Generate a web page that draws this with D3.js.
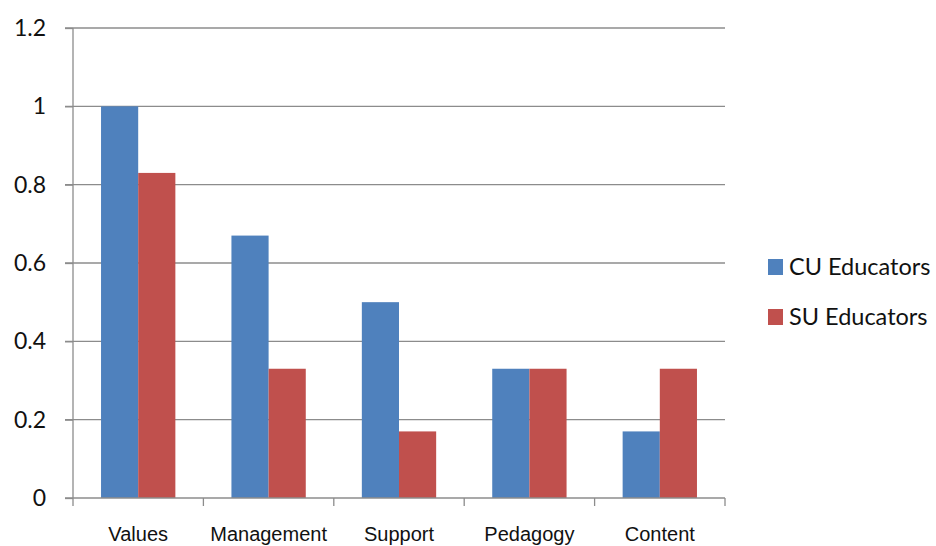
<html lang="en">
<head>
    <meta charset="utf-8">
    <title>Educators</title>
    <script src="https://cdn.jsdelivr.net/npm/d3@7"></script>
    <style>
        body { margin: 0; background: #fff; }
        .grid line { stroke: #8c8c8c; stroke-width: 1.3px; }
        .axis path, .axis line { stroke: #8c8c8c; stroke-width: 1.3px; }
    </style>
</head>
<body>
    <svg width="936" height="546"></svg>
    <script>
        var categories = ["Values", "Management", "Support", "Pedagogy", "Content"];
        var seriesNames = ["CU Educators", "SU Educators"];
        var cuValues = [1, 0.67, 0.5, 0.33, 0.17];
        var suValues = [0.83, 0.33, 0.17, 0.33, 0.33];
        var yTicks = [0, 0.2, 0.4, 0.6, 0.8, 1, 1.2];
        var colors = ["#4f81bd", "#c0504d"];

        var svg = d3.select("svg"),
            margin = {top: 28, right: 211, bottom: 48, left: 73},
            width = 936 - margin.left - margin.right,
            height = 546 - margin.top - margin.bottom,
            g = svg.append("g").attr("transform", "translate(" + margin.left + "," + margin.top + ")");

        var data = categories.map(function(c, i) {
            return {cat: c, values: [cuValues[i], suValues[i]]};
        });

        var x0 = d3.scaleBand().domain(categories).range([0, width]).paddingInner(0.43).paddingOuter(0.215);
        var x1 = d3.scaleBand().domain(seriesNames).range([0, x0.bandwidth()]);
        var y = d3.scaleLinear().domain([0, 1.2]).range([height, 0]);

        // gridlines
        g.append("g").attr("class", "grid")
            .selectAll("line").data(yTicks.slice(1)).enter().append("line")
            .attr("x1", -8).attr("x2", width)
            .attr("y1", function(d) { return y(d); })
            .attr("y2", function(d) { return y(d); });

        // y axis
        var yAxis = g.append("g").attr("class", "axis")
            .call(d3.axisLeft(y).tickValues(yTicks).tickSize(8).tickSizeOuter(0).tickFormat(function(d) { return d3.format("")(+d.toFixed(1)); }));
        yAxis.select(".domain").attr("d", "M0," + height + "V0");
        yAxis.selectAll("text")
            .attr("x", -27)
            .style("font", "23px Lato, 'Open Sans', sans-serif")
            .attr("fill", "#111");

        // bars
        var groups = g.selectAll(".grp").data(data).enter().append("g")
            .attr("transform", function(d) { return "translate(" + x0(d.cat) + ",0)"; });
        groups.selectAll("rect").data(function(d) {
            return d.values.map(function(v, i) { return {name: seriesNames[i], value: v, i: i}; });
        }).enter().append("rect")
            .attr("x", function(d) { return x1(d.name); })
            .attr("width", x1.bandwidth())
            .attr("y", function(d) { return y(d.value); })
            .attr("height", function(d) { return height - y(d.value); })
            .attr("fill", function(d) { return colors[d.i]; });

        // x axis
        var step = width / categories.length;
        var xAxis = g.append("g").attr("class", "axis")
            .attr("transform", "translate(0," + height + ")");
        xAxis.append("line").attr("x1", -8).attr("x2", width);
        xAxis.selectAll(".tk").data(d3.range(categories.length + 1)).enter().append("line")
            .attr("x1", function(d) { return d * step; })
            .attr("x2", function(d) { return d * step; })
            .attr("y1", 0).attr("y2", 8);
        xAxis.selectAll("text").data(categories).enter().append("text")
            .attr("x", function(d) { return x0(d) + x0.bandwidth() / 2; })
            .attr("y", 43)
            .attr("text-anchor", "middle")
            .style("font", "20px 'Liberation Sans', Arial, sans-serif")
            .attr("fill", "#111")
            .text(function(d) { return d; });

        // legend
        var legend = svg.append("g").attr("transform", "translate(768,259)");
        var item = legend.selectAll(".item").data(seriesNames).enter().append("g")
            .attr("transform", function(d, i) { return "translate(0," + (i * 50) + ")"; });
        item.append("rect").attr("width", 15).attr("height", 16)
            .attr("fill", function(d, i) { return colors[i]; });
        item.append("text").attr("x", 21).attr("y", 8).attr("dy", "0.35em")
            .style("font", "23.5px Lato, 'Open Sans', sans-serif")
            .attr("fill", "#111")
            .text(function(d) { return d; });
    </script>
</body>
</html>
